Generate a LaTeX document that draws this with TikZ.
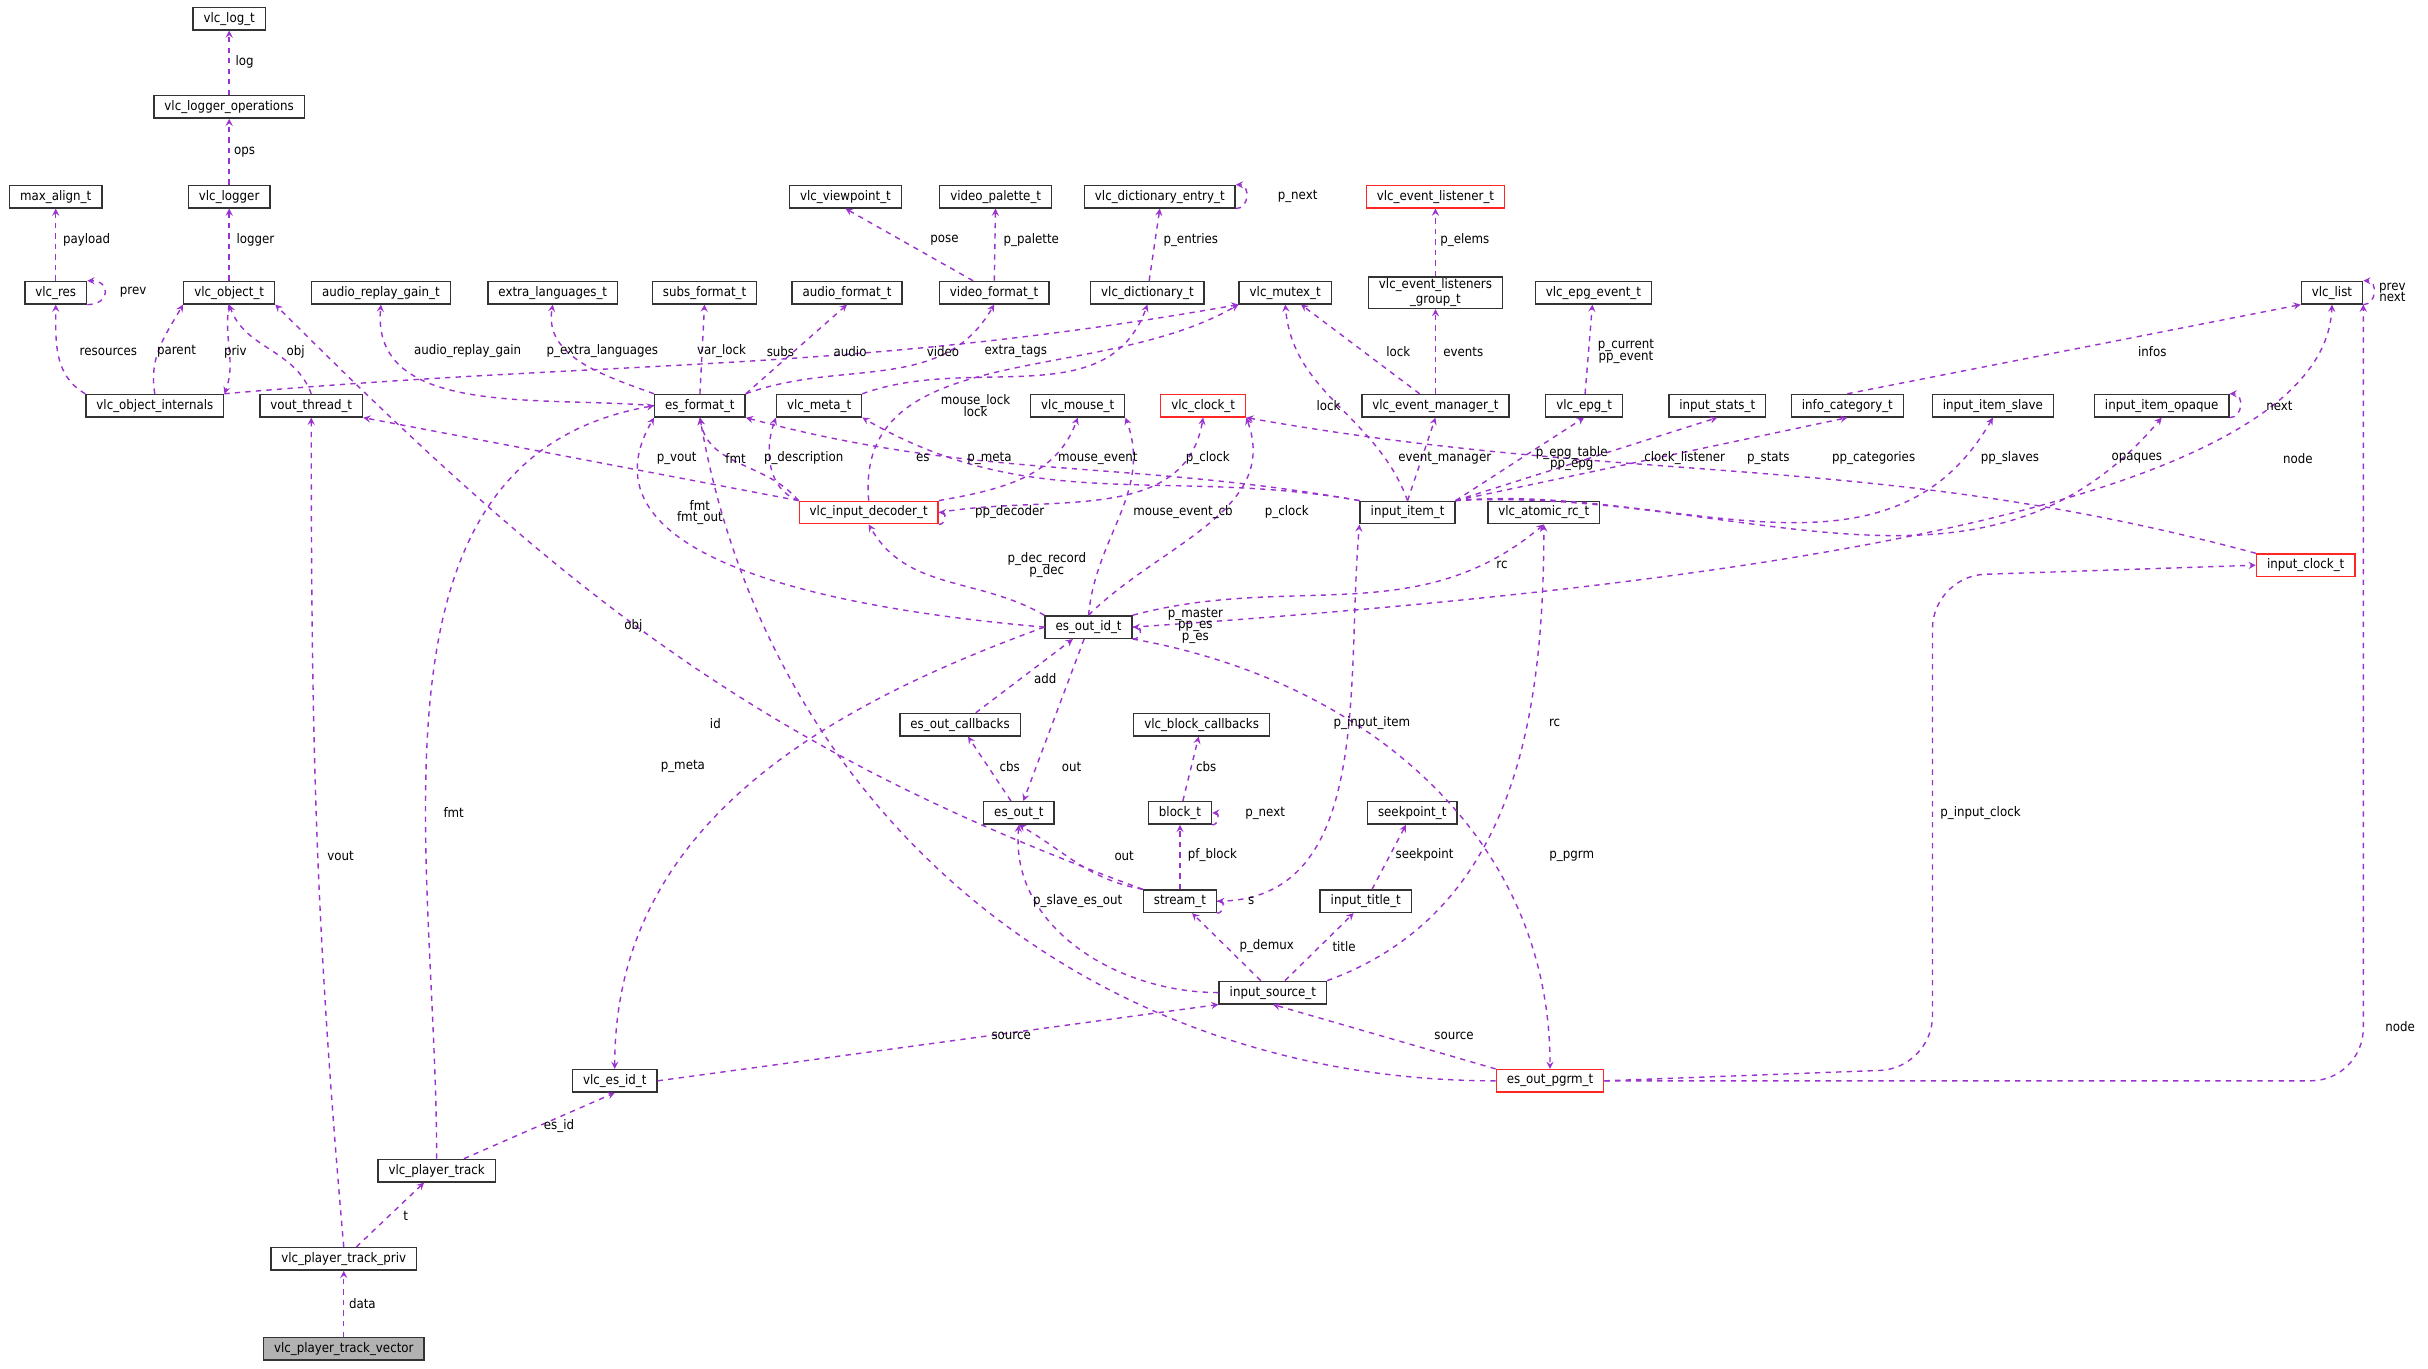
\documentclass[tikz,border=0pt]{standalone}
\usepackage{fontspec}
\setmainfont{DejaVu Sans Condensed}
\usepackage{xcolor}
\definecolor{edgepurple}{HTML}{9A32CD}
\tikzstyle{cls}=[shape=rectangle,
                draw=black!80,
                thick,
                fill=white,
                font=\fontsize{7.5}{8.5}\selectfont,
                minimum height=0.45cm,
                inner xsep=6pt,
                inner ysep=1pt]
\tikzstyle{clsred}=[cls,draw=red!85]
\tikzstyle{dep}=[->,dashed,thick,draw=edgepurple]
\tikzstyle{lbl}=[font=\fontsize{7.5}{8.5}\selectfont,inner sep=1pt,align=center]

\begin{document}
\begin{tikzpicture}[x=0.031cm,y=-0.031cm,>=stealth]
\useasboundingbox (0,0) rectangle (1568,884);

% top rows
\node[cls] (logt)   at (148,12)  {vlc\_log\_t};
\node[cls] (logops) at (148,69)  {vlc\_logger\_operations};
\node[cls] (logger) at (148,127) {vlc\_logger};
\node[cls] (maxal)  at (36,127)  {max\_align\_t};
\node[cls] (res)    at (36,189)  {vlc\_res};
\node[cls] (obj)    at (148,189) {vlc\_object\_t};
\node[cls] (argain) at (246,189) {audio\_replay\_gain\_t};
\node[cls] (xlang)  at (357,189) {extra\_languages\_t};
\node[cls] (subs)   at (455,189) {subs\_format\_t};
\node[cls] (afmt)   at (547,189) {audio\_format\_t};
\node[cls] (vfmt)   at (642,189) {video\_format\_t};
\node[cls] (dict)   at (741,189) {vlc\_dictionary\_t};
\node[cls] (mutex)  at (830,189) {vlc\_mutex\_t};
\node[cls,align=center] (evgrp) at (927,189) {vlc\_event\_listeners\\\_group\_t};
\node[cls] (epgev)  at (1029,189) {vlc\_epg\_event\_t};
\node[cls] (vlist)  at (1506,189) {vlc\_list};
\node[cls] (vpoint) at (546,127) {vlc\_viewpoint\_t};
\node[cls] (vpal)   at (643,127) {video\_palette\_t};
\node[cls] (dentry) at (749,127) {vlc\_dictionary\_entry\_t};
\node[clsred] (evlis) at (927,127) {vlc\_event\_listener\_t};

% middle rows
\node[cls] (oint)   at (100,262) {vlc\_object\_internals};
\node[cls] (vout)   at (201,262) {vout\_thread\_t};
\node[cls] (esfmt)  at (452,262) {es\_format\_t};
\node[cls] (meta)   at (529,262) {vlc\_meta\_t};
\node[cls] (mouse)  at (696,262) {vlc\_mouse\_t};
\node[clsred] (clock) at (777,262) {vlc\_clock\_t};
\node[cls] (evman)  at (927,262) {vlc\_event\_manager\_t};
\node[cls] (epg)    at (1023,262) {vlc\_epg\_t};
\node[cls] (stats)  at (1109,262) {input\_stats\_t};
\node[cls] (infocat) at (1193,262) {info\_category\_t};
\node[cls] (slave)  at (1287,262) {input\_item\_slave};
\node[cls] (opaque) at (1396,262) {input\_item\_opaque};
\node[clsred] (dec) at (561,331) {vlc\_input\_decoder\_t};
\node[cls] (item)   at (909,331) {input\_item\_t};
\node[cls] (rc)     at (997,331) {vlc\_atomic\_rc\_t};
\node[clsred] (iclock) at (1489,365) {input\_clock\_t};
\node[cls] (esid)   at (703,405) {es\_out\_id\_t};

% lower rows
\node[cls] (escb)   at (620,468) {es\_out\_callbacks};
\node[cls] (blkcb)  at (776,468) {vlc\_block\_callbacks};
\node[cls] (esout)  at (658,525) {es\_out\_t};
\node[cls] (block)  at (762,525) {block\_t};
\node[cls] (seek)   at (912,525) {seekpoint\_t};
\node[cls] (stream) at (762,582) {stream\_t};
\node[cls] (title)  at (882,582) {input\_title\_t};
\node[cls] (src)    at (822,641) {input\_source\_t};
\node[cls] (vesid)  at (397,698) {vlc\_es\_id\_t};
\node[clsred] (pgrm) at (1001,698) {es\_out\_pgrm\_t};
\node[cls] (ptrack) at (282,756) {vlc\_player\_track};
\node[cls] (ppriv)  at (222,813) {vlc\_player\_track\_priv};
\node[cls,fill=black!30] (pvec) at (222,871) {vlc\_player\_track\_vector};

% paths
\draw[dep] (logops) -- (logt);
\draw[dep] (logger) -- (logops);
\draw[dep] (obj) -- (logger);
\draw[dep] (res) -- (maxal);
\draw[dep] (res.south east) to[out=0,in=0,looseness=2.5] (res.north east);
\draw[dep] (oint.north west) to[out=150,in=-90] (res.south);
\draw[dep] (oint.north) to[out=100,in=-120] (obj.south west);
\draw[dep] (obj.south) to[out=-100,in=70] (oint.north east);
\draw[dep] (vout.north) to[out=110,in=-70] (obj.south);
\draw[dep] (oint.north east) to[out=5,in=190] (mutex.south west);
\draw[dep] (esfmt.west) to[out=175,in=-95] (argain.south);
\draw[dep] (esfmt.north west) to[out=160,in=-100] (xlang.south);
\draw[dep] (esfmt.north) -- (subs.south);
\draw[dep] (esfmt.north east) -- (afmt.south);
\draw[dep] (esfmt.north east) to[out=20,in=-120] (vfmt.south);
\draw[dep] (vfmt) -- (vpoint.south);
\draw[dep] (vfmt) -- (vpal);
\draw[dep] (dict) -- (dentry.south);
\draw[dep] (dentry.south east) to[out=0,in=0,looseness=1.5] (dentry.north east);
\draw[dep] (meta.north east) to[out=20,in=-110] (dict.south);
\draw[dep] (dec.north) to[out=95,in=-150] (mutex.south west);
\draw[dep] (evman) -- (mutex);
\draw[dep] (item.north) to[out=110,in=-85] (mutex.south);
\draw[dep] (evgrp) -- (evlis);
\draw[dep] (evman) -- (evgrp);
\draw[dep] (epg) -- (epgev);
\draw[dep] (vlist.south east) to[out=0,in=0,looseness=1.5] (vlist.north east);
\draw[dep] (infocat.north) -- (vlist.south west);
\draw[dep] (esid.east) .. controls (1100,380) and (1500,330) .. (vlist.south);
\draw[dep,rounded corners=30] (pgrm.east) -- (pgrm.east -| vlist.south east) -- (vlist.south east);
\draw[dep] (dec.north west) -- (vout.south east);
\draw[dep] (ppriv.north) to[out=95,in=-90] (vout.south);
\draw[dep] (dec.north west) to[out=130,in=-80] (esfmt.south);
\draw[dep] (dec.north west) to[out=160,in=-110] (meta.south west);
\draw[dep] (esid.west) to[out=175,in=-120] (esfmt.south west);
\draw[dep] (item.north west) to[out=170,in=-15] (esfmt.south east);
\draw[dep] (item.north west) to[out=170,in=-30] (meta.south east);
\draw[dep] (pgrm.west) to[out=180,in=-80] (esfmt.south);
\draw[dep] (ptrack.north) to[out=90,in=190] (esfmt.west);
\draw[dep] (dec.north east) to[out=10,in=-110] (mouse.south);
\draw[dep] (esid.north) to[out=85,in=-70] (mouse.south east);
\draw[dep] (dec.east) to[out=10,in=-100] (clock.south);
\draw[dep] (esid.north) to[out=45,in=-70] (clock.south east);
\draw[dep] (iclock.north west) to[out=165,in=-10] (clock.south east);
\draw[dep] (dec.south east) to[out=0,in=0,looseness=1.5] (dec.east);
\draw[dep] (esid.north west) to[out=150,in=-60] (dec.south);
\draw[dep] (item.north) -- (evman.south);
\draw[dep] (item.north east) -- (epg.south);
\draw[dep] (item.north east) -- (stats.south);
\draw[dep] (item.north east) -- (infocat.south);
\draw[dep] (item.north east) to[out=5,in=-120] (slave.south);
\draw[dep] (item.north east) to[out=3,in=-130] (opaque.south);
\draw[dep] (opaque.south east) to[out=0,in=0,looseness=1.5] (opaque.north east);
\draw[dep] (esid.north east) to[out=15,in=-140] (rc.south);
\draw[dep] (src.north east) to[out=20,in=-90] (rc.south);
\draw[dep] (stream.east) to[out=0,in=-95] (item.south west);
\draw[dep] (esid.south east) to[out=0,in=0,looseness=2] (esid.east);
\draw[dep,rounded corners=30] (pgrm.east) -- (1248,690) -- (1248,372) -- (iclock.west);
\draw[dep] (esid.south east) to[out=-10,in=90] (pgrm.north);
\draw[dep] (escb) -- (esid);
\draw[dep] (esout) -- (escb);
\draw[dep] (esid) -- (esout);
\draw[dep] (esid.west) to[out=200,in=90] (vesid.north);
\draw[dep] (block) -- (blkcb);
\draw[dep] (block.south east) to[out=0,in=0,looseness=1.5] (block.east);
\draw[dep] (stream) -- (block);
\draw[dep] (stream.north west) to[out=170,in=-30] (esout.south);
\draw[dep] (stream.south east) to[out=0,in=0,looseness=1.5] (stream.east);
\draw[dep] (stream.north west) to[out=160,in=-45] (obj.south east);
\draw[dep] (title) -- (seek);
\draw[dep] (src) -- (title);
\draw[dep] (src) -- (stream);
\draw[dep] (src.west) to[out=180,in=-95] (esout.south);
\draw[dep] (vesid.east) -- (src.south west);
\draw[dep] (pgrm.north west) -- (src.south);
\draw[dep] (ptrack) -- (vesid.south);
\draw[dep] (ppriv) -- (ptrack);
\draw[dep] (pvec) -- (ppriv);

% edge labels
\node[lbl] (l1) at (158,40) {log};
\node[lbl] (l2) at (158,98) {ops};
\node[lbl] (l3) at (165,155) {logger};
\node[lbl] (l4) at (56,155) {payload};
\node[lbl] (l5) at (86,189) {prev};
\node[lbl] (l6) at (70,227) {resources};
\node[lbl] (l7) at (114,227) {parent};
\node[lbl] (l8) at (152,227) {priv};
\node[lbl] (l9) at (191,227) {obj};
\node[lbl] (l10) at (302,227) {audio\_replay\_gain};
\node[lbl] (l11) at (389,227) {p\_extra\_languages};
\node[lbl] (l12) at (466,227) {var\_lock};
\node[lbl] (l13) at (504,227) {subs};
\node[lbl] (l14) at (549,227) {audio};
\node[lbl] (l15) at (609,227) {video};
\node[lbl] (l16) at (656,227) {extra\_tags};
\node[lbl] (l17) at (610,155) {pose};
\node[lbl] (l18) at (666,155) {p\_palette};
\node[lbl] (l19) at (769,155) {p\_entries};
\node[lbl] (l20) at (838,127) {p\_next};
\node[lbl] (l21) at (630,262) {mouse\_lock\\[-2pt]lock};
\node[lbl] (l22) at (903,227) {lock};
\node[lbl] (l23) at (858,262) {lock};
\node[lbl] (l24) at (946,155) {p\_elems};
\node[lbl] (l25) at (945,227) {events};
\node[lbl] (l26) at (1050,227) {p\_current\\[-2pt]pp\_event};
\node[lbl] (l27) at (1545,189) {prev\\[-2pt]next};
\node[lbl] (l28) at (1390,227) {infos};
\node[lbl] (l29) at (1484,296) {node};
\node[lbl] (l30) at (1550,663) {node};
\node[lbl] (l31) at (437,296) {p\_vout};
\node[lbl] (l32) at (475,296) {fmt};
\node[lbl] (l33) at (519,296) {p\_description};
\node[lbl] (l34) at (452,331) {fmt\\[-2pt]fmt\_out};
\node[lbl] (l35) at (596,296) {es};
\node[lbl] (l36) at (639,296) {p\_meta};
\node[lbl] (l37) at (709,296) {mouse\_event};
\node[lbl] (l38) at (780,296) {p\_clock};
\node[lbl] (l39) at (764,331) {mouse\_event\_cb};
\node[lbl] (l40) at (831,331) {p\_clock};
\node[lbl] (l41) at (652,331) {pp\_decoder};
\node[lbl] (l42) at (676,365) {p\_dec\_record\\[-2pt]p\_dec};
\node[lbl] (l43) at (933,296) {event\_manager};
\node[lbl] (l44) at (1015,296) {p\_epg\_table\\[-2pt]pp\_epg};
\node[lbl] (l45) at (1088,296) {clock\_listener};
\node[lbl] (l46) at (1142,296) {p\_stats};
\node[lbl] (l47) at (1210,296) {pp\_categories};
\node[lbl] (l48) at (1298,296) {pp\_slaves};
\node[lbl] (l49) at (1380,296) {opaques};
\node[lbl] (l50) at (1472,262) {next};
\node[lbl] (l51) at (970,365) {rc};
\node[lbl] (l52) at (772,404) {p\_master\\[-2pt]pp\_es\\[-2pt]p\_es};
\node[lbl] (l53) at (409,404) {obj};
\node[lbl] (l54) at (675,438) {add};
\node[lbl] (l55) at (692,495) {out};
\node[lbl] (l56) at (652,495) {cbs};
\node[lbl] (l57) at (779,495) {cbs};
\node[lbl] (l58) at (817,525) {p\_next};
\node[lbl] (l59) at (886,467) {p\_input\_item};
\node[lbl] (l60) at (1004,467) {rc};
\node[lbl] (l61) at (920,552) {seekpoint};
\node[lbl] (l62) at (783,552) {pf\_block};
\node[lbl] (l63) at (726,553) {out};
\node[lbl] (l64) at (808,582) {s};
\node[lbl] (l65) at (868,611) {title};
\node[lbl] (l66) at (818,611) {p\_demux};
\node[lbl] (l67) at (696,582) {p\_slave\_es\_out};
\node[lbl] (l68) at (1279,525) {p\_input\_clock};
\node[lbl] (l69) at (1015,553) {p\_pgrm};
\node[lbl] (l70) at (462,467) {id};
\node[lbl] (l71) at (441,495) {p\_meta};
\node[lbl] (l72) at (653,669) {source};
\node[lbl] (l73) at (939,669) {source};
\node[lbl] (l74) at (293,525) {fmt};
\node[lbl] (l75) at (220,553) {vout};
\node[lbl] (l76) at (361,727) {es\_id};
\node[lbl] (l77) at (262,785) {t};
\node[lbl] (l78) at (234,842) {data};
\end{tikzpicture}
\end{document}
